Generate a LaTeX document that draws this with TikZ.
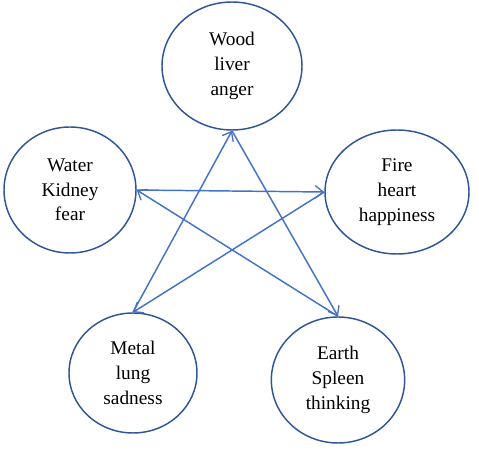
\documentclass[tikz,border=0pt]{standalone}
\usepackage{fontspec}
\setmainfont{Liberation Serif}
\usepackage{xcolor}
\usetikzlibrary{shapes.geometric,arrows.meta}
\definecolor{rim}{HTML}{2F5597}
\definecolor{ray}{HTML}{4472C4}
\tikzset{
  phase/.style  = {ellipse, draw=rim, fill=white, line width=1.1pt, inner sep=0pt,
                   align=center, font=\fontsize{14.5}{18.5}\selectfont},
  cycle/.style  = {-{Straight Barb[length=6pt,width=9.5pt,line width=1pt]}, draw=ray, line width=1.1pt},
}
\begin{document}
\begin{tikzpicture}[x=0.75pt,y=0.75pt]
\path[use as bounding box] (0,0) rectangle (479,450);

% ---- the five phases ----------------------------------------------------
\node[phase, minimum width=105pt, minimum height=96pt]   (wood)  at (232,384) {Wood\\liver\\anger};
\node[phase, minimum width=99pt,  minimum height=94.5pt] (water) at (70,260)  {Water\\Kidney\\fear};
\node[phase, minimum width=108pt, minimum height=93pt]   (fire)  at (397,258) {Fire\\heart\\happiness};
\node[phase, minimum width=96pt,  minimum height=90pt]   (metal) at (133,77)  {Metal\\lung\\sadness};
\node[phase, minimum width=100pt, minimum height=94.5pt] (earth) at (338,70)  {Earth\\Spleen\\thinking};

% ---- controlling cycle --------------------------------------------------
\draw[cycle] (wood.south)  -- (earth.north);
\draw[cycle] (earth.north) -- (water.east);
\draw[cycle] (water.east)  -- (fire.west);
\draw[cycle] (fire.west)   -- (metal.north);
\draw[cycle] (metal.north) -- (wood.south);

\end{tikzpicture}
\end{document}
